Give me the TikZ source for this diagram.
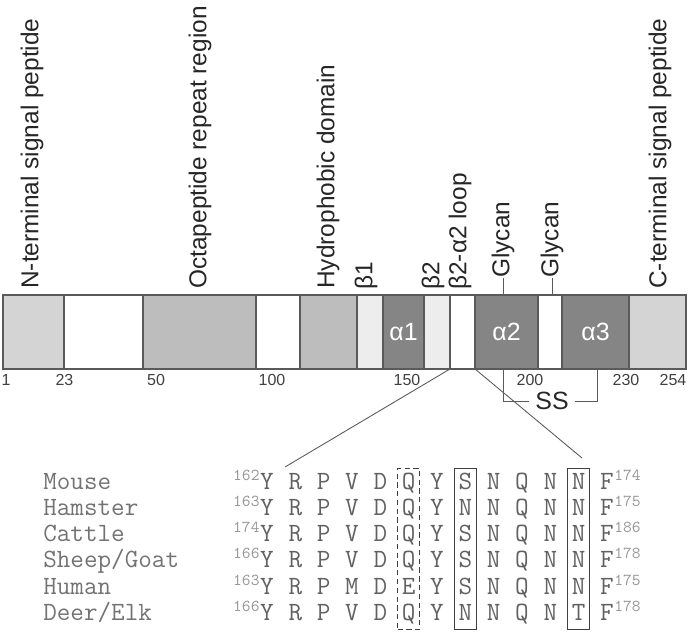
\documentclass[tikz,border=0pt]{standalone}
\usepackage{fontspec}
\setmainfont{Liberation Sans}
\usepackage{xcolor}
\usetikzlibrary{positioning, calc, fit}

\definecolor{segLight}{HTML}{D4D4D4}
\definecolor{segMid}{HTML}{BDBDBD}
\definecolor{segPale}{HTML}{EDEDED}
\definecolor{segDark}{HTML}{858585}
\definecolor{lineGray}{HTML}{5A5A5A}

\begin{document}
\begin{tikzpicture}[
    x=0.02cm, y=-0.02cm,
    seg/.style={rectangle, draw=lineGray, line width=0.6pt, minimum height=1.48cm, inner sep=0pt, outer sep=0pt, anchor=north west},
    lbl/.style={rotate=90, anchor=west, inner sep=0pt, font=\fontsize{13.9}{16}\selectfont, text=black!85},
    num/.style={inner sep=0pt, font=\fontsize{9.1}{11}\selectfont, text=black!75},
    helix/.style={text=white, font=\fontsize{14.2}{16}\selectfont},
    species/.style={anchor=base west, inner sep=0pt, font=\ttfamily\fontsize{15}{17}\selectfont, text=black!55},
    res/.style={anchor=base, inner sep=0pt, text height=9pt, text depth=2.5pt, font=\ttfamily\fontsize{15}{17}\selectfont, text=black!62},
    resnum/.style={inner sep=0pt, font=\ttfamily\fontsize{9.5}{11}\selectfont, text=black!40},
    colbox/.style={draw=black!75, line width=0.7pt, inner xsep=2.2pt, inner ysep=2.6pt},
    thinline/.style={draw=lineGray, line width=0.5pt}
]
\useasboundingbox (0,0) rectangle (700,633);

% Domain bar
\foreach \a/\b/\c [count=\i] in {3/64/segLight, 64/143/white, 143/256/segMid, 256/300/white, 300/357/segMid, 357/383/segPale, 383/424/segDark, 424/450/segPale, 450/475/white, 475/538/segDark, 538/562/white, 562/629/segDark, 629/686/segLight}
    \node[seg, fill=\c, minimum width={(\b-\a)*0.02cm}] (s\i) at (\a,295) {};

% Helices
\node[helix] (h1) at (s7) {α1};
\node[helix] (h2) at (s10) {α2};
\node[helix] (h3) at (s12) {α3};

% Domain labels (top)
\node[lbl] (nterm) at (32,289) {N-terminal signal peptide};
\node[lbl] (octa) at (200,289) {Octapeptide repeat region};
\node[lbl] (hydro) at (328,289) {Hydrophobic domain};
\node[lbl] (beta1) at (366,290) {β1};
\node[lbl] (beta2) at (433,290) {β2};
\node[lbl] (loop) at (460,290) {β2-α2 loop};
\node[lbl] (gly1) at (503,278) {Glycan};
\node[lbl] (gly2) at (552,278) {Glycan};
\node[lbl] (cterm) at (660,289) {C-terminal signal peptide};

\draw[thinline] (gly1.west) -- (gly1.west |- s10.north);
\draw[thinline] (gly2.west) -- (gly2.west |- s11.north);

% Residue numbers
\foreach \p/\x in {1/6, 23/64.5, 50/156, 100/272, 150/407, 200/530, 230/626, 254/673}
    \node[num] (n\p) at (\x,380) {\p};

% Disulfide bond
\node[font=\fontsize{14.2}{16}\selectfont, text=black!85, inner sep=3.5pt] (ss) at (552,401) {SS};
\draw[thinline] (ss.west) -| (503,369);
\draw[thinline] (ss.east) -| (597,369);

% Zoom onto the loop
\coordinate (zl) at (285,467);
\coordinate (zr) at (582,458);
\draw[thinline] (s9.south west) -- (zl);
\draw[thinline] (s9.south east) -- (zr);

% Alignment
\foreach \sp/\st/\en/\seq [count=\r] in {
    Mouse/162/174/{Y,R,P,V,D,Q,Y,S,N,Q,N,N,F},
    Hamster/163/175/{Y,R,P,V,D,Q,Y,N,N,Q,N,N,F},
    Cattle/174/186/{Y,R,P,V,D,Q,Y,S,N,Q,N,N,F},
    {Sheep/Goat}/166/178/{Y,R,P,V,D,Q,Y,S,N,Q,N,N,F},
    Human/163/175/{Y,R,P,M,D,E,Y,S,N,Q,N,N,F},
    {Deer/Elk}/166/178/{Y,R,P,V,D,Q,Y,N,N,Q,N,T,F}} {
    \node[species] (sp\r) at (43,{489+(\r-1)*26.3}) {\sp};
    \foreach \aa [count=\k] in \seq
        \node[res] (r\r-\k) at ({267+(\k-1)*28.33},{489+(\r-1)*26.3}) {\aa};
    \node[resnum, anchor=base east] (st\r) at ($(r\r-1.base west)+(0,-9)$) {\st};
    \node[resnum, anchor=base west] (en\r) at ($(r\r-13.base east)+(0,-9)$) {\en};
}

% Boxed columns
\node[colbox, dashed, dash pattern=on 3pt off 2pt, fit=(r1-6)(r6-6)] (qbox) {};
\node[colbox, fit=(r1-8)(r6-8)] (sbox) {};
\node[colbox, fit=(r1-12)(r6-12)] (nbox) {};

\end{tikzpicture}
\end{document}
